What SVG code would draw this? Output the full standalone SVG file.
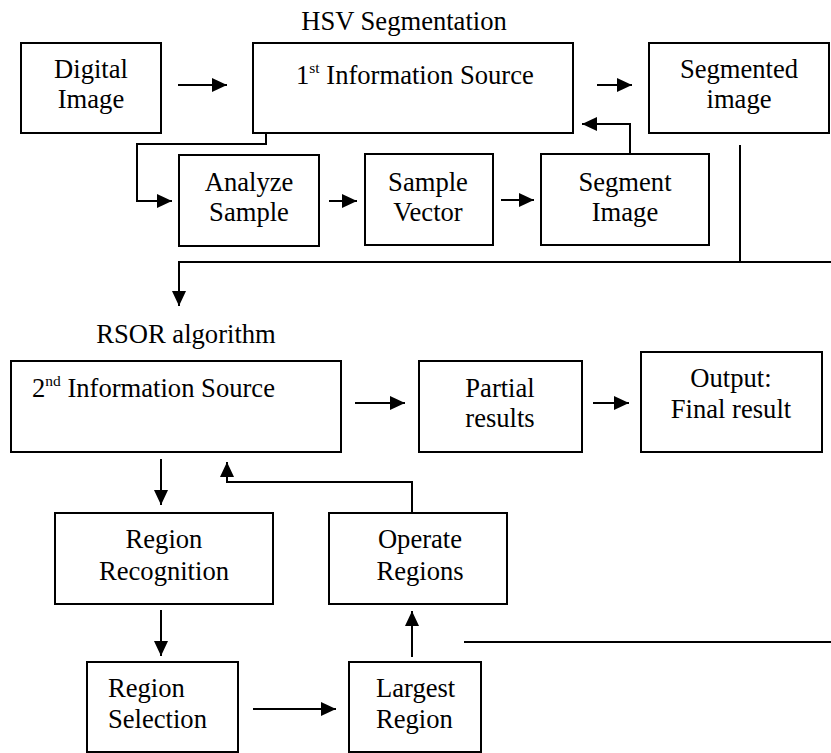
<svg xmlns="http://www.w3.org/2000/svg" width="831" height="753" viewBox="0 0 831 753">
<style>
  .box { fill: #fff; stroke: #000; stroke-width: 2; }
  .t { font-family: "Liberation Serif", "Times New Roman", serif; font-size: 26.6px; fill: #000; }
  .c { text-anchor: middle; }
  .ln { fill: none; stroke: #000; stroke-width: 2; }
  .sup { font-size: 15.5px; }
</style>
<defs>
  <marker id="ah" markerUnits="userSpaceOnUse" markerWidth="16" markerHeight="15" refX="15" refY="7" orient="auto">
    <path d="M0,0 L15,7 L0,14 z" fill="#000"/>
  </marker>
</defs>
<rect width="831" height="753" fill="#fff"/>

<text class="t c" x="404" y="30">HSV Segmentation</text>
<text class="t c" x="186" y="343">RSOR algorithm</text>

<g id="digital-image">
  <rect class="box" x="21" y="43" width="140" height="90"/>
  <text class="t c" x="91" y="78">Digital</text>
  <text class="t c" x="91" y="108">Image</text>
</g>
<g id="info-source-1">
  <rect class="box" x="253" y="43" width="320" height="90"/>
  <text class="t" x="296" y="84">1<tspan class="sup" dy="-11">st</tspan><tspan dy="11"> Information Source</tspan></text>
</g>
<g id="segmented-image">
  <rect class="box" x="649" y="43" width="180" height="90"/>
  <text class="t c" x="739" y="78">Segmented</text>
  <text class="t c" x="739" y="108">image</text>
</g>
<g id="analyze-sample">
  <rect class="box" x="179" y="155" width="140" height="91"/>
  <text class="t c" x="249" y="191">Analyze</text>
  <text class="t c" x="249" y="221">Sample</text>
</g>
<g id="sample-vector">
  <rect class="box" x="365" y="154" width="128" height="91"/>
  <text class="t c" x="428" y="191">Sample</text>
  <text class="t c" x="428" y="221">Vector</text>
</g>
<g id="segment-image">
  <rect class="box" x="541" y="154" width="168" height="91"/>
  <text class="t c" x="625" y="191">Segment</text>
  <text class="t c" x="625" y="221">Image</text>
</g>
<g id="info-source-2">
  <rect class="box" x="11" y="361" width="330" height="91"/>
  <text class="t" x="32" y="397">2<tspan class="sup" dy="-11">nd</tspan><tspan dy="11"> Information Source</tspan></text>
</g>
<g id="partial-results">
  <rect class="box" x="419" y="361" width="163" height="91"/>
  <text class="t c" x="500" y="397">Partial</text>
  <text class="t c" x="500" y="427">results</text>
</g>
<g id="output">
  <rect class="box" x="641" y="352" width="181" height="100"/>
  <text class="t c" x="731" y="387">Output:</text>
  <text class="t c" x="731" y="418">Final result</text>
</g>
<g id="region-recognition">
  <rect class="box" x="55" y="513" width="218" height="91"/>
  <text class="t c" x="164" y="548">Region</text>
  <text class="t c" x="164" y="580">Recognition</text>
</g>
<g id="operate-regions">
  <rect class="box" x="329" y="513" width="178" height="91"/>
  <text class="t c" x="420" y="548">Operate</text>
  <text class="t c" x="420" y="580">Regions</text>
</g>
<g id="region-selection">
  <rect class="box" x="87" y="662" width="151" height="90"/>
  <text class="t" x="108" y="697">Region</text>
  <text class="t" x="108" y="728">Selection</text>
</g>
<g id="largest-region">
  <rect class="box" x="349" y="662" width="132" height="90"/>
  <text class="t" x="376" y="697">Largest</text>
  <text class="t" x="376" y="728">Region</text>
</g>

<g id="connectors">
  <path class="ln" d="M178 85 H227" marker-end="url(#ah)"/>
  <path class="ln" d="M597 85 H632" marker-end="url(#ah)"/>
  <path class="ln" d="M266 133 V144 H137 V201 H172" marker-end="url(#ah)"/>
  <path class="ln" d="M329 201 H357" marker-end="url(#ah)"/>
  <path class="ln" d="M501 200 H534" marker-end="url(#ah)"/>
  <path class="ln" d="M630 154 V124 H582" marker-end="url(#ah)"/>
  <path class="ln" d="M740 145 V262"/>
  <path class="ln" d="M831 262 H179 V306" marker-end="url(#ah)"/>
  <path class="ln" d="M355 403 H405" marker-end="url(#ah)"/>
  <path class="ln" d="M593 403 H629" marker-end="url(#ah)"/>
  <path class="ln" d="M161 459 V505" marker-end="url(#ah)"/>
  <path class="ln" d="M412 513 V482 H227 V462" marker-end="url(#ah)"/>
  <path class="ln" d="M161 610 V656" marker-end="url(#ah)"/>
  <path class="ln" d="M253 709 H336" marker-end="url(#ah)"/>
  <path class="ln" d="M412 657 V611" marker-end="url(#ah)"/>
  <path class="ln" d="M464 642 H831"/>
</g>
</svg>
